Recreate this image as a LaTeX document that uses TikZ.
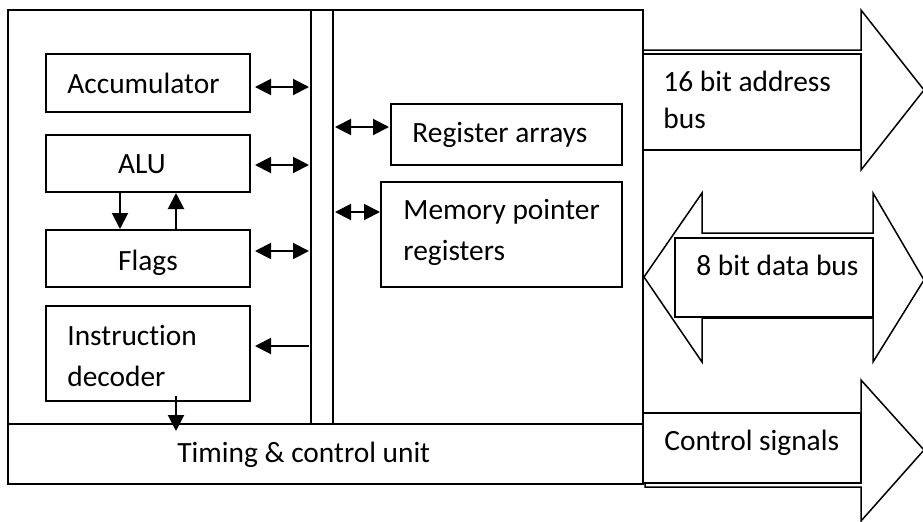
\documentclass[tikz,border=0pt]{standalone}
\usepackage{fontspec}
\setmainfont[Ligatures=NoCommon]{Carlito}
\usetikzlibrary{arrows.meta,calc}
\begin{document}
\begin{tikzpicture}[x=0.5pt,y=-0.5pt,
  box/.style={draw,line width=1pt,inner sep=0pt},
  tbox/.style={draw,line width=1pt,inner sep=0pt,fill=white},
  txt/.style={inner sep=0pt,font=\fontsize{14.7}{20.5}\selectfont},
  dar/.style={line width=1pt,{Triangle[length=8pt,width=8pt]}-{Triangle[length=8pt,width=8pt]}},
  sar/.style={line width=1pt,-{Triangle[length=8pt,width=8pt]}},
  big/.style={draw,line width=0.75pt,fill=white,line join=miter},
]
\useasboundingbox (0,0) rectangle (923,521);

% big bus arrows
\path[big] (643,50) -- (861,50) -- (861,10) -- (924,90) -- (861,170) -- (861,150) -- (643,150);
\path[big] (644,277) -- (702,193) -- (702,233) -- (873,233) -- (873,193) -- (924,280)
  -- (873,362) -- (873,318) -- (702,318) -- (702,362) -- cycle;
\path[big] (645,413) -- (861,413) -- (861,380) -- (924,450) -- (861,521) -- (861,487) -- (645,487) -- cycle;

% main boxes
\node[box,minimum width=317.5pt,minimum height=207pt] (cpu) at (325.5,217) {};
\node[box,minimum width=317.5pt,minimum height=30pt] (tcu) at (325.5,454) {};
\node[box,minimum width=11pt,minimum height=207pt] (bus) at (322,217) {};
\node[box,minimum width=102pt,minimum height=29pt] (acc) at (148,83) {};
\node[box,minimum width=102pt,minimum height=28.5pt] (alu) at (148,163.5) {};
\node[box,minimum width=102pt,minimum height=28.5pt] (flg) at (148,258.5) {};
\node[box,minimum width=102pt,minimum height=47.5pt] (idc) at (148,353.5) {};
\node[box,minimum width=115.5pt,minimum height=30.5pt] (reg) at (506.5,134.5) {};
\node[box,minimum width=120.5pt,minimum height=52.5pt] (mem) at (501.5,234.5) {};

% text boxes on bus arrows
\node[tbox,minimum width=109pt,minimum height=48pt] (adr) at (752,102) {};
\node[tbox,minimum width=99pt,minimum height=39.5pt] (dat) at (774,277.5) {};
\node[tbox,minimum width=109pt,minimum height=35pt] (ctl) at (752,448) {};

% texts (multi-line nodes anchored at the baseline of their last line)
\node[txt,anchor=base west] (tacc) at (67,93) {Accumulator};
\node[txt,anchor=base] (talu) at (142,173) {ALU};
\node[txt,anchor=base] (tflg) at (148,270) {Flags};
\node[txt,anchor=base west,align=left] (tidc) at (67,386) {Instruction\\decoder};
\node[txt,anchor=base west] (ttcu) at (177,462) {Timing \& control unit};
\node[txt,anchor=base west] (treg) at (412,142) {Register arrays};
\node[txt,anchor=base west,align=left] (tmem) at (403,260) {Memory pointer\\registers};
\node[txt,anchor=base west,align=left,font=\fontsize{14.7}{18.5}\selectfont] (tadr) at (663,128) {16 bit address\\bus};
\node[txt,anchor=base west] (tdat) at (696,275) {8 bit data bus};
\node[txt,anchor=base west] (tctl) at (664,450) {Control signals};

% connectors
\draw[dar] ($(acc.east)+(4,4)$) -- ($(acc.east -| bus.west)+(-1,4)$);
\draw[dar] ($(alu.east)+(4,1.5)$) -- ($(alu.east -| bus.west)+(-1,1.5)$);
\draw[dar] ($(flg.east)+(4,-7.5)$) -- ($(flg.east -| bus.west)+(-1,-7.5)$);
\draw[sar] ($(idc.east -| bus.west)+(-1,-7.5)$) -- ($(idc.east)+(4,-7.5)$);
\draw[dar] ($(reg.west -| bus.east)+(1,-7.5)$) -- ($(reg.west)+(-1,-7.5)$);
\draw[dar] ($(mem.west -| bus.east)+(1,-22.5)$) -- ($(mem.west)+(0,-22.5)$);
\draw[sar] ($(alu.south west)+(75,0)$) -- ($(flg.north west)+(75,0)$);
\draw[sar] ($(flg.north west)+(131,0)$) -- ($(alu.south west)+(131,0)$);
\draw[sar] ($(idc.south west)+(131,-6)$) -- ($(tcu.north west)+(169,8)$);
\end{tikzpicture}
\end{document}
